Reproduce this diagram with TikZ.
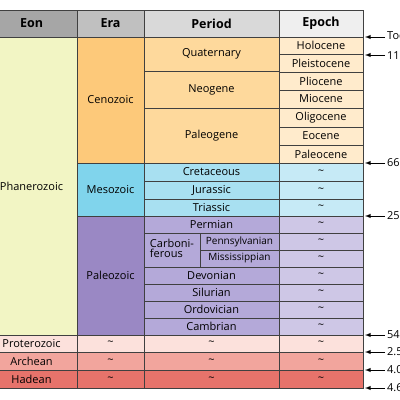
\documentclass[tikz,border=0pt]{standalone}
\usepackage{fontspec}
\setmainfont{Open Sans}
\begin{document}
\begin{tikzpicture}[x=1pt,y=-1pt,
  cell/.style={draw=black!75,line width=0.5pt,inner sep=0pt,font=\fontsize{11}{12}\selectfont},
  hd/.style={cell,font=\bfseries\fontsize{12.5}{13}\selectfont},
  arr/.style={-latex,line width=0.9pt},
  lbl/.style={anchor=west,inner sep=0pt,font=\fontsize{11}{12}\selectfont}]
\useasboundingbox (0,0) rectangle (400,400);
\newcommand\cell[8][cell]{\node[#1,fill=#7,minimum width=#4-#2,minimum height=#5-#3] (#6) at ({(#2+#4)/2},{(#3+#5)/2}) {#8};}
\definecolor{cA}{HTML}{A6A6A6}\definecolor{cB}{HTML}{C0C0C0}\definecolor{cC}{HTML}{D9D9D9}\definecolor{cD}{HTML}{EFEFEF}
\definecolor{phan}{HTML}{F2F5C4}\definecolor{ceno}{HTML}{FDC97A}\definecolor{cenp}{HTML}{FED99C}\definecolor{cene}{HTML}{FFEBCC}
\definecolor{meso}{HTML}{80D4EC}\definecolor{mesp}{HTML}{A8E0F1}\definecolor{mese}{HTML}{C6EAF6}
\definecolor{pale}{HTML}{9A88C4}\definecolor{palp}{HTML}{B4A9D9}\definecolor{pale2}{HTML}{CEC7E6}
\definecolor{prot}{HTML}{FCE1DC}\definecolor{arch}{HTML}{F2A59D}\definecolor{hade}{HTML}{E7736B}
% header
\cell[hd]{-14}{10}{77}{37}{hEon}{cA}{Eon}
\cell[hd]{77}{10}{144}{37}{hEra}{cB}{Era}
\cell[hd]{144}{10}{279}{37}{hPer}{cC}{Period}
\cell[hd]{279}{10}{363}{37}{hEp}{cD}{Epoch}
% eons
\cell{-14}{37}{77}{335}{phanero}{phan}{Phanerozoic}
\cell{-14}{335}{77}{352}{proto}{prot}{Proterozoic}
\cell{-14}{352}{77}{370}{archean}{arch}{Archean}
\cell{-14}{370}{77}{388}{hadean}{hade}{Hadean}
% eras
\cell{77}{37}{144}{163}{cenozoic}{ceno}{Cenozoic}
\cell{77}{163}{144}{216}{mesozoic}{meso}{Mesozoic}
\cell{77}{216}{144}{335}{paleozoic}{pale}{Paleozoic}
\cell{77}{335}{144}{352}{e1}{prot}{\textasciitilde}
\cell{77}{352}{144}{370}{e2}{arch}{\textasciitilde}
\cell{77}{370}{144}{388}{e3}{hade}{\textasciitilde}
% periods
\cell{144}{37}{279}{71}{quat}{cenp}{Quaternary}
\cell{144}{71}{279}{108}{neog}{cenp}{Neogene}
\cell{144}{108}{279}{163}{paleog}{cenp}{Paleogene}
\cell{144}{163}{279}{181}{cret}{mesp}{Cretaceous}
\cell{144}{181}{279}{199}{jura}{mesp}{Jurassic}
\cell{144}{199}{279}{216}{tria}{mesp}{Triassic}
\cell{144}{216}{279}{233}{perm}{palp}{Permian}
\cell{144}{233}{200}{267}{carb}{palp}{\begin{tabular}{@{}l@{}}Carboni-\\[-2pt]ferous\end{tabular}}
\cell{200}{233}{279}{250}{penn}{palp}{\fontsize{10}{11}\selectfont Pennsylvanian}
\cell{200}{250}{279}{267}{miss}{palp}{\fontsize{10}{11}\selectfont Mississippian}
\cell{144}{267}{279}{284}{devo}{palp}{Devonian}
\cell{144}{284}{279}{301}{silu}{palp}{Silurian}
\cell{144}{301}{279}{318}{ordo}{palp}{Ordovician}
\cell{144}{318}{279}{335}{camb}{palp}{Cambrian}
\cell{144}{335}{279}{352}{p1}{prot}{\textasciitilde}
\cell{144}{352}{279}{370}{p2}{arch}{\textasciitilde}
\cell{144}{370}{279}{388}{p3}{hade}{\textasciitilde}
% epochs
\cell{279}{37}{363}{54}{holo}{cene}{Holocene}
\cell{279}{54}{363}{72}{plei}{cene}{Pleistocene}
\cell{279}{72}{363}{90}{plio}{cene}{Pliocene}
\cell{279}{90}{363}{108}{mioc}{cene}{Miocene}
\cell{279}{108}{363}{127}{olig}{cene}{Oligocene}
\cell{279}{127}{363}{145}{eoce}{cene}{Eocene}
\cell{279}{145}{363}{163}{paleo}{cene}{Paleocene}
\cell{279}{163}{363}{181}{x1}{mese}{\textasciitilde}
\cell{279}{181}{363}{199}{x2}{mese}{\textasciitilde}
\cell{279}{199}{363}{216}{x3}{mese}{\textasciitilde}
\cell{279}{216}{363}{233}{x4}{pale2}{\textasciitilde}
\cell{279}{233}{363}{250}{x5}{pale2}{\textasciitilde}
\cell{279}{250}{363}{267}{x6}{pale2}{\textasciitilde}
\cell{279}{267}{363}{284}{x7}{pale2}{\textasciitilde}
\cell{279}{284}{363}{301}{x8}{pale2}{\textasciitilde}
\cell{279}{301}{363}{318}{x9}{pale2}{\textasciitilde}
\cell{279}{318}{363}{335}{x10}{pale2}{\textasciitilde}
\cell{279}{335}{363}{352}{x11}{prot}{\textasciitilde}
\cell{279}{352}{363}{370}{x12}{arch}{\textasciitilde}
\cell{279}{370}{363}{388}{x13}{hade}{\textasciitilde}
% time marks
\foreach \y/\t/\n in {37/Today/a0,55/11.7 ka/a1,163/66 Ma/a2,216/252 Ma/a3,335/541 Ma/a4,352/2.5 Ga/a5,370/4.0 Ga/a6,388/4.6 Ga/a7}{
  \node[lbl] (\n) at (387,\y) {\t};
  \draw[arr] ([xshift=-2]\n.west) -- (365,\y);
}
\end{tikzpicture}
\end{document}
